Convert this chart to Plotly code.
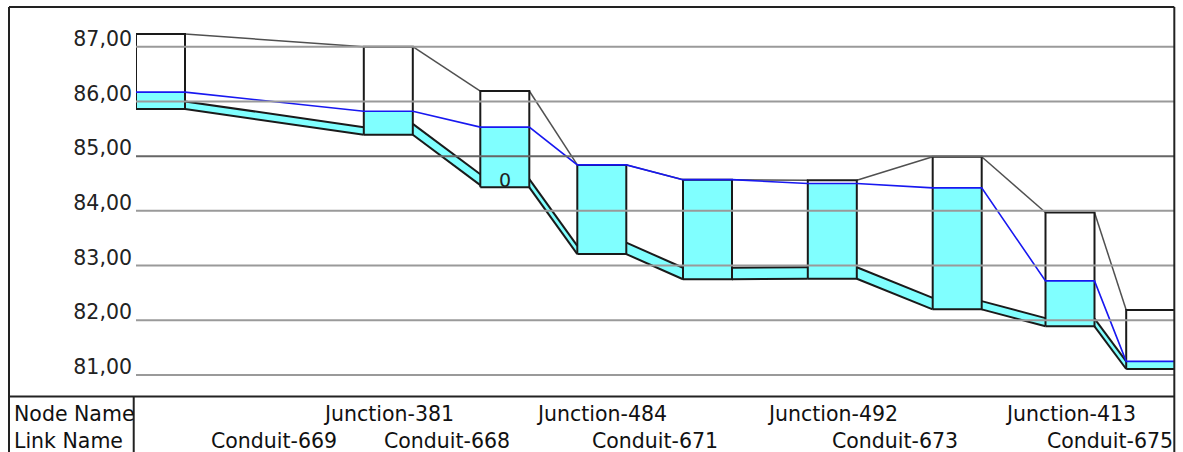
import plotly.graph_objects as go

# ---------------- data ----------------
stations = [0.0, 227.8, 344.3, 441.3, 547.0, 671.8, 796.7, 909.5, 990.2]
node_top = [87.23, 87.00, 86.19, 84.84, 84.57, 84.56, 84.99, 83.97, 82.19]
node_invert = [85.86, 85.39, 84.43, 83.21, 82.75, 82.76, 82.20, 81.89, 81.11]
node_water = [86.17, 85.82, 85.53, 84.84, 84.57, 84.50, 84.42, 82.72, 81.25]
node_labels = ["", "Junction-381", "", "Junction-484", "", "Junction-492", "", "Junction-413", ""]

link_labels = ["Conduit-669", "Conduit-668", "", "Conduit-671", "", "Conduit-673", "", "Conduit-675"]
link_up_invert = [85.86, 85.39, 84.43, 83.21, 82.75, 82.76, 82.20, 81.89]
link_dn_invert = [85.39, 84.47, 83.21, 82.75, 82.76, 82.20, 81.89, 81.11]
link_diam = [0.14, 0.20, 0.15, 0.21, 0.21, 0.21, 0.15, 0.14]

marker_node = 2
marker_text = "0"
marker_elev = 84.57

y_ticks = [81, 82, 83, 84, 85, 86, 87]

# ---------------- styles ----------------
HW = 24.5  # half width of node box (station units)
CYAN = "#80ffff"
FONT = "DejaVu Sans"
X_RANGE = [-24.5, 1013.5]
Y_RANGE = [80.6166, 87.7255]

fig = go.Figure()

n = len(stations)
# conduit fills
cx, cy = [], []
for i in range(n - 1):
    x0 = stations[i] + HW
    x1 = stations[i + 1] - HW
    a, b, d = link_up_invert[i], link_dn_invert[i], link_diam[i]
    cx += [x0, x1, x1, x0, x0, None]
    cy += [a, b, b + d, a + d, a, None]
fig.add_trace(go.Scatter(x=cx, y=cy, mode="lines", fill="toself", fillcolor=CYAN,
                         line=dict(width=0), hoverinfo="skip", showlegend=False))
# conduit crown/invert lines
lx, ly = [], []
for i in range(n - 1):
    x0 = stations[i] + HW
    x1 = stations[i + 1] - HW
    a, b, d = link_up_invert[i], link_dn_invert[i], link_diam[i]
    lx += [x0, x1, None, x0, x1, None]
    ly += [a, b, None, a + d, b + d, None]
fig.add_trace(go.Scatter(x=lx, y=ly, mode="lines", line=dict(color="#1a1a1a", width=2),
                         hoverinfo="skip", showlegend=False))

# node water fills
wx, wy = [], []
for i in range(n):
    x0, x1 = stations[i] - HW, stations[i] + HW
    wx += [x0, x1, x1, x0, x0, None]
    wy += [node_invert[i], node_invert[i], node_water[i], node_water[i], node_invert[i], None]
fig.add_trace(go.Scatter(x=wx, y=wy, mode="lines", fill="toself", fillcolor=CYAN,
                         line=dict(width=0), hoverinfo="skip", showlegend=False))

# ground line
gx, gy = [], []
for i in range(n - 1):
    gx += [stations[i] + HW, stations[i + 1] - HW, None]
    gy += [node_top[i], node_top[i + 1], None]
fig.add_trace(go.Scatter(x=gx, y=gy, mode="lines", line=dict(color="#505050", width=1.5),
                         hoverinfo="skip", showlegend=False))

# node outlines
ox, oy = [], []
for i in range(n):
    x0, x1 = stations[i] - HW, stations[i] + HW
    ox += [x0, x1, x1, x0, x0, None]
    oy += [node_invert[i], node_invert[i], node_top[i], node_top[i], node_invert[i], None]
fig.add_trace(go.Scatter(x=ox, y=oy, mode="lines", line=dict(color="#1a1a1a", width=2),
                         hoverinfo="skip", showlegend=False))

# hydraulic grade line
hx, hy = [], []
for i in range(n):
    hx += [stations[i] - HW, stations[i] + HW]
    hy += [node_water[i], node_water[i]]
fig.add_trace(go.Scatter(x=hx, y=hy, mode="lines", line=dict(color="#1818f0", width=1.6),
                         hoverinfo="skip", showlegend=False))

# gridlines above traces
shapes = []
for t in y_ticks:
    shapes.append(dict(type="line", xref="paper", yref="y", x0=0, x1=1, y0=t, y1=t,
                       line=dict(color="#666666" if t == 85 else "#9a9a9a", width=2),
                       layer="above"))
# frame / table lines
FR = "#222222"
px_left = (9 - 136) / 1038
shapes += [
    dict(type="line", xref="paper", yref="paper", x0=px_left, x1=1.0003, y0=1, y1=1,
         line=dict(color=FR, width=2)),
    dict(type="line", xref="paper", yref="paper", x0=px_left, x1=px_left, y0=1, y1=-0.2,
         line=dict(color=FR, width=2)),
    dict(type="line", xref="paper", yref="paper", x0=1.0003, x1=1.0003, y0=1, y1=-0.2,
         line=dict(color=FR, width=2)),
    dict(type="line", xref="paper", yref="paper", x0=px_left, x1=1.0003, y0=-0.0013, y1=-0.0013,
         line=dict(color=FR, width=2)),
    dict(type="line", xref="paper", yref="paper", x0=-0.0022, x1=-0.0022, y0=-0.0013, y1=-0.2,
         line=dict(color=FR, width=2)),
]

annotations = []
row1 = (396 - 414) / 389
row2 = (396 - 441) / 389
annotations.append(dict(x=px_left + 0.0025, y=row1, xref="paper", yref="paper", text="Node Name",
                        showarrow=False, xanchor="left", yanchor="middle",
                        font=dict(family=FONT, size=20.5, color="#111")))
annotations.append(dict(x=px_left + 0.0025, y=row2, xref="paper", yref="paper", text="Link Name",
                        showarrow=False, xanchor="left", yanchor="middle",
                        font=dict(family=FONT, size=20.5, color="#111")))
for i, name in enumerate(node_labels):
    if name:
        annotations.append(dict(x=stations[i], y=row1, xref="x", yref="paper", text=name,
                                showarrow=False, xanchor="center", yanchor="middle",
                                font=dict(family=FONT, size=20.5, color="#111")))
for i, name in enumerate(link_labels):
    if name:
        annotations.append(dict(x=(stations[i] + stations[i + 1]) / 2, y=row2, xref="x", yref="paper",
                                text=name, showarrow=False, xanchor="center", yanchor="middle",
                                font=dict(family=FONT, size=20.5, color="#111")))
annotations.append(dict(x=stations[marker_node], y=marker_elev, xref="x", yref="y", text=marker_text,
                        showarrow=False, xanchor="center", yanchor="middle",
                        font=dict(family=FONT, size=19, color="#222")))

fig.update_layout(
    width=1183, height=452,
    margin=dict(l=136, r=9, t=7, b=56),
    paper_bgcolor="white", plot_bgcolor="white",
    separators=",.",
    shapes=shapes, annotations=annotations,
    xaxis=dict(range=X_RANGE, visible=False, showgrid=False, zeroline=False),
    yaxis=dict(range=Y_RANGE, tickvals=y_ticks, tickformat=".2f", showgrid=False, zeroline=False,
               showline=False, ticks="", ticklabelshift=-8, ticklabelstandoff=3,
               tickfont=dict(family=FONT, size=20.5, color="#222")),
    showlegend=False,
)

fig.write_html("out.html", config={"displayModeBar": False},
               post_script="document.body.style.margin='0px';document.body.style.overflow='hidden';")
